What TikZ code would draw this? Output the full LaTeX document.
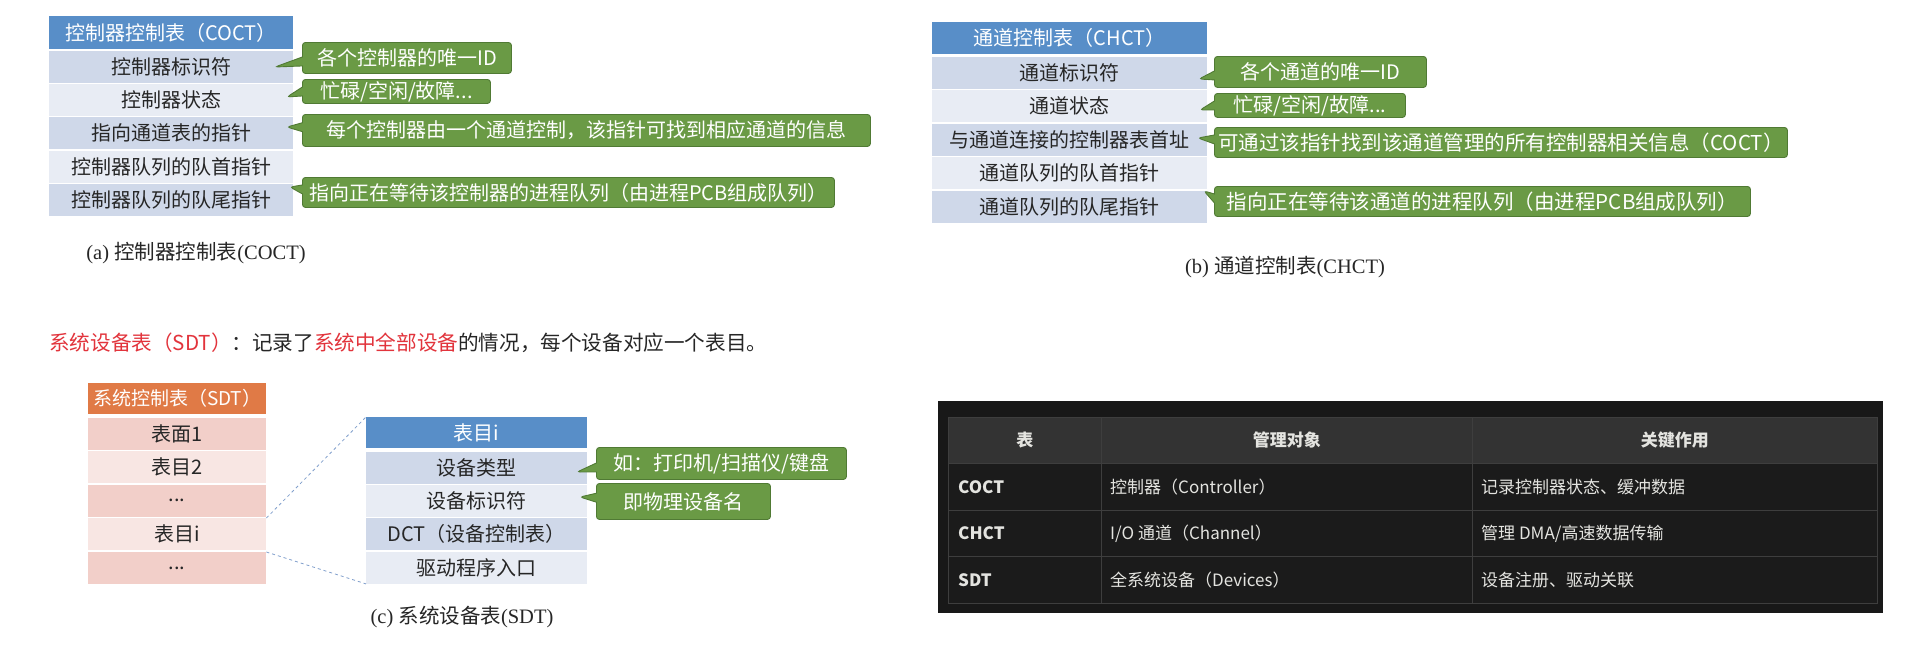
\documentclass[tikz,border=0pt]{standalone}
\usepackage{fontspec}
\setmainfont{Noto Sans CJK SC}
\newfontfamily\cjk{Noto Sans CJK SC}
\newfontfamily\capserif{Liberation Serif}
\usetikzlibrary{shapes.callouts}
\definecolor{hdrblue}{RGB}{88,142,200}
\definecolor{rowdark}{RGB}{207,216,233}
\definecolor{rowlight}{RGB}{232,236,244}
\definecolor{cgreen}{RGB}{106,154,69}
\definecolor{cborder}{RGB}{80,122,52}
\definecolor{hdrorange}{RGB}{224,122,70}
\definecolor{pinkdark}{RGB}{242,207,201}
\definecolor{pinklight}{RGB}{248,230,227}
\definecolor{redtxt}{RGB}{226,52,60}
\definecolor{txt}{RGB}{38,38,38}
\definecolor{dashblue}{RGB}{130,160,205}
\definecolor{panelbg}{RGB}{24,24,24}
\definecolor{thead}{RGB}{51,51,51}
\definecolor{tbody}{RGB}{27,27,27}
\definecolor{tline}{RGB}{62,62,62}
\definecolor{ttxt}{RGB}{228,228,224}
\tikzset{
  cell/.style={anchor=north west, inner sep=0pt, minimum height=32, text=txt,
    font=\fontsize{20}{24}\selectfont},
  hcell/.style={cell, text=white},
  gcall/.style={rectangle callout, fill=cgreen, draw=cborder, line width=0.9pt,
    rounded corners=3pt, anchor=north west, inner sep=0pt, text=white,
    font=\fontsize{20}{24}\selectfont, callout pointer width=9pt},
  caption/.style={inner sep=0pt, text=txt, font=\fontsize{20.5}{24}\selectfont},
  dcell/.style={anchor=north west, inner sep=0pt, draw=tline, line width=0.8pt},
  dtxt/.style={inner sep=0pt, text=ttxt, font=\fontsize{17}{20}\selectfont},
  dlink/.style={draw=dashblue, dashed, line width=0.8pt},
}
\begin{document}
\begin{tikzpicture}[x=1pt,y=-1pt]
\useasboundingbox[fill=white] (0,0) rectangle (1919,665);

% ---------------- COCT ----------------
\node[hcell, fill=hdrblue, minimum width=244, minimum height=33] (coct0) at (49,16) {控制器控制表（COCT）};
\node[cell, fill=rowdark,  minimum width=244] (coct1) at (49,51)  {控制器标识符};
\node[cell, fill=rowlight, minimum width=244] (coct2) at (49,84)  {控制器状态};
\node[cell, fill=rowdark,  minimum width=244] (coct3) at (49,117) {指向通道表的指针};
\node[cell, fill=rowlight, minimum width=244] (coct4) at (49,150.5) {控制器队列的队首指针};
\node[cell, fill=rowdark,  minimum width=244] (coct5) at (49,184) {控制器队列的队尾指针};

\node[gcall, minimum width=209, minimum height=31, callout absolute pointer={(275,67)}] (ca1) at (302,42) {各个控制器的唯一ID};
\node[gcall, minimum width=188, minimum height=24, callout absolute pointer={(287,97)}] (ca2) at (302,79) {忙碌/空闲/故障...};
\node[gcall, minimum width=568, minimum height=32, callout absolute pointer={(287,127)}] (ca3) at (302,114) {每个控制器由一个通道控制，该指针可找到相应通道的信息};
\node[gcall, minimum width=532, minimum height=30, callout absolute pointer={(290,187)}] (ca4) at (302,177) {指向正在等待该控制器的进程队列（由进程PCB组成队列）};

\node[caption] (capa) at (196,253) {{\capserif (a) }控制器控制表{\capserif (COCT)}};

% ---------------- CHCT ----------------
\node[hcell, fill=hdrblue, minimum width=275] (chct0) at (932,22) {通道控制表（CHCT）};
\node[cell, fill=rowdark,  minimum width=275] (chct1) at (932,57)  {通道标识符};
\node[cell, fill=rowlight, minimum width=275] (chct2) at (932,90)  {通道状态};
\node[cell, fill=rowdark,  minimum width=275] (chct3) at (932,123.5) {与通道连接的控制器表首址};
\node[cell, fill=rowlight, minimum width=275] (chct4) at (932,157) {通道队列的队首指针};
\node[cell, fill=rowdark,  minimum width=275] (chct5) at (932,190.5) {通道队列的队尾指针};

\node[gcall, minimum width=212, minimum height=31, callout absolute pointer={(1199,79)}] (cb1) at (1214,56) {各个通道的唯一ID};
\node[gcall, minimum width=191, minimum height=24, callout absolute pointer={(1200,110)}] (cb2) at (1214,93) {忙碌/空闲/故障...};
\node[gcall, minimum width=573, minimum height=30, font=\fontsize{20.5}{24}\selectfont, callout absolute pointer={(1198,138)}] (cb3) at (1214,127) {可通过该指针找到该通道管理的所有控制器相关信息（COCT）};
\node[gcall, minimum width=536, minimum height=30, font=\fontsize{20.5}{24}\selectfont, callout absolute pointer={(1204,191)}] (cb4) at (1214,186) {指向正在等待该通道的进程队列（由进程PCB组成队列）};

\node[caption] (capb) at (1285,267) {{\capserif (b) }通道控制表{\capserif (CHCT)}};

% ---------------- SDT ----------------
\node[anchor=west, inner sep=0pt, text=txt, font=\fontsize{20.6}{24}\selectfont] (sdttitle) at (49,343)
  {{\color{redtxt}系统设备表（SDT）}：记录了{\color{redtxt}系统中全部设备}的情况，每个设备对应一个表目。};

\node[hcell, fill=hdrorange, minimum width=178, minimum height=31, font=\fontsize{19}{23}\selectfont] (sdt0) at (88,383) {系统控制表（SDT）};
\node[cell, fill=pinkdark,  minimum width=178] (sdt1) at (88,418) {表面1};
\node[cell, fill=pinklight, minimum width=178] (sdt2) at (88,451) {表目2};
\node[cell, fill=pinkdark,  minimum width=178] (sdt3) at (88,484.5) {...};
\node[cell, fill=pinklight, minimum width=178] (sdt4) at (88,518) {表目i};
\node[cell, fill=pinkdark,  minimum width=178] (sdt5) at (88,552) {...};

\node[hcell, fill=hdrblue, minimum width=221, minimum height=31] (ti0) at (366,417) {表目i};
\node[cell, fill=rowdark,  minimum width=221] (ti1) at (366,451.5) {设备类型};
\node[cell, fill=rowlight, minimum width=221] (ti2) at (366,484.5) {设备标识符};
\node[cell, fill=rowdark,  minimum width=221] (ti3) at (366,518) {DCT（设备控制表）};
\node[cell, fill=rowlight, minimum width=221] (ti4) at (366,551.5) {驱动程序入口};

\draw[dlink] (sdt4.north east) -- (ti0.north west);
\draw[dlink] (sdt5.north east) -- (ti4.south west);

\node[gcall, minimum width=250, minimum height=32, callout absolute pointer={(577,472)}] (cc1) at (596,447) {如：打印机/扫描仪/键盘};
\node[gcall, minimum width=174, minimum height=36, callout absolute pointer={(580,497)}] (cc2) at (596,483) {即物理设备名};

\node[caption] (capc) at (462,617) {{\capserif (c) }系统设备表{\capserif (SDT)}};

% ---------------- dark summary table ----------------
\node[anchor=north west, inner sep=0pt, fill=panelbg, minimum width=945, minimum height=212] (panel) at (938,401) {};

\node[dcell, fill=thead, minimum width=153, minimum height=46] (h1) at (948,417) {};
\node[dcell, fill=thead, minimum width=371, minimum height=46] (h2) at (1101,417) {};
\node[dcell, fill=thead, minimum width=405, minimum height=46] (h3) at (1472,417) {};
\node[dtxt, font=\fontsize{17}{20}\selectfont\bfseries] at (h1.center) {表};
\node[dtxt, font=\fontsize{17}{20}\selectfont\bfseries] at (h2.center) {管理对象};
\node[dtxt, font=\fontsize{17}{20}\selectfont\bfseries] at (h3.center) {关键作用};

\node[dcell, fill=tbody, minimum width=153, minimum height=46.67] (a1) at (948,463) {};
\node[dcell, fill=tbody, minimum width=371, minimum height=46.67] (a2) at (1101,463) {};
\node[dcell, fill=tbody, minimum width=405, minimum height=46.67] (a3) at (1472,463) {};
\node[dcell, fill=tbody, minimum width=153, minimum height=46.67] (b1) at (948,509.67) {};
\node[dcell, fill=tbody, minimum width=371, minimum height=46.67] (b2) at (1101,509.67) {};
\node[dcell, fill=tbody, minimum width=405, minimum height=46.67] (b3) at (1472,509.67) {};
\node[dcell, fill=tbody, minimum width=153, minimum height=46.67] (s1) at (948,556.33) {};
\node[dcell, fill=tbody, minimum width=371, minimum height=46.67] (s2) at (1101,556.33) {};
\node[dcell, fill=tbody, minimum width=405, minimum height=46.67] (s3) at (1472,556.33) {};

\node[dtxt, anchor=west, font=\fontsize{17}{20}\selectfont\bfseries] at ([xshift=10]a1.west) {COCT};
\node[dtxt, anchor=west] at ([xshift=9]a2.west) {控制器（Controller）};
\node[dtxt, anchor=west] at ([xshift=9]a3.west) {记录控制器状态、缓冲数据};
\node[dtxt, anchor=west, font=\fontsize{17}{20}\selectfont\bfseries] at ([xshift=10]b1.west) {CHCT};
\node[dtxt, anchor=west] at ([xshift=9]b2.west) {I/O 通道（Channel）};
\node[dtxt, anchor=west] at ([xshift=9]b3.west) {管理 DMA/高速数据传输};
\node[dtxt, anchor=west, font=\fontsize{17}{20}\selectfont\bfseries] at ([xshift=10]s1.west) {SDT};
\node[dtxt, anchor=west] at ([xshift=9]s2.west) {全系统设备（Devices）};
\node[dtxt, anchor=west] at ([xshift=9]s3.west) {设备注册、驱动关联};
\end{tikzpicture}
\end{document}
